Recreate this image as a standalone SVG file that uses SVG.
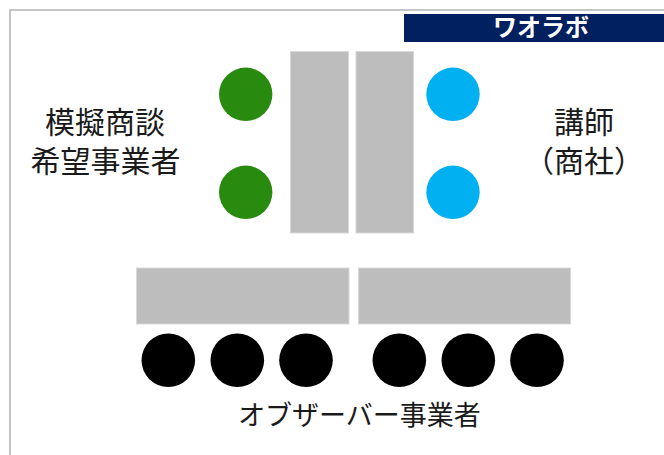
<svg xmlns="http://www.w3.org/2000/svg" width="664" height="455" viewBox="0 0 664 455">
<style>
.t{font-family:"Liberation Sans","Noto Sans CJK JP",sans-serif;fill:#1a1a1a;text-anchor:middle}
.tbl{fill:#bcbdbc;stroke:#d9d9d9;stroke-width:1}
.g{fill:#288a0e}
.b{fill:#00b0f0}
.k{fill:#000}
</style>
<rect width="664" height="455" fill="#fff"/>
<g id="frame">
<path d="M10,455 V10 H664" fill="none" stroke="#c6c6c6" stroke-width="2"/>
</g>
<g id="banner">
<rect x="404" y="14" width="260" height="28" fill="#002060"/>
<text x="541" y="36" font-family="Noto Sans CJK JP,sans-serif" font-size="24" font-weight="bold" fill="#fff" text-anchor="middle">ワオラボ</text>
</g>
<g id="tables">
<rect class="tbl" x="290.5" y="51.5" width="58" height="181.5"/>
<rect class="tbl" x="356" y="51.5" width="57.5" height="181.5"/>
<rect class="tbl" x="136.5" y="268" width="212.5" height="56"/>
<rect class="tbl" x="358.5" y="268" width="212" height="56"/>
</g>
<g id="business-seats">
<circle class="g" cx="245.7" cy="94.3" r="26.7"/>
<circle class="g" cx="245.7" cy="192.3" r="26.7"/>
</g>
<g id="lecturer-seats">
<circle class="b" cx="453" cy="94.3" r="26.7"/>
<circle class="b" cx="453" cy="192.3" r="26.7"/>
</g>
<g id="observer-seats">
<circle class="k" cx="168.3" cy="360.3" r="26.8"/>
<circle class="k" cx="237.3" cy="360.3" r="26.8"/>
<circle class="k" cx="306" cy="360.3" r="26.8"/>
<circle class="k" cx="399.3" cy="360.3" r="26.8"/>
<circle class="k" cx="468.3" cy="360.3" r="26.8"/>
<circle class="k" cx="537" cy="360.3" r="26.8"/>
</g>
<g id="label-business">
<text class="t" x="105" y="133" font-size="30">模擬商談</text>
<text class="t" x="105.5" y="172" font-size="30">希望事業者</text>
</g>
<g id="label-lecturer">
<text class="t" x="584" y="133" font-size="30">講師</text>
<text class="t" x="584" y="172" font-size="30">（商社）</text>
</g>
<g id="label-observer">
<text class="t" x="359.5" y="425" font-size="27">オブザーバー事業者</text>
</g>
</svg>
